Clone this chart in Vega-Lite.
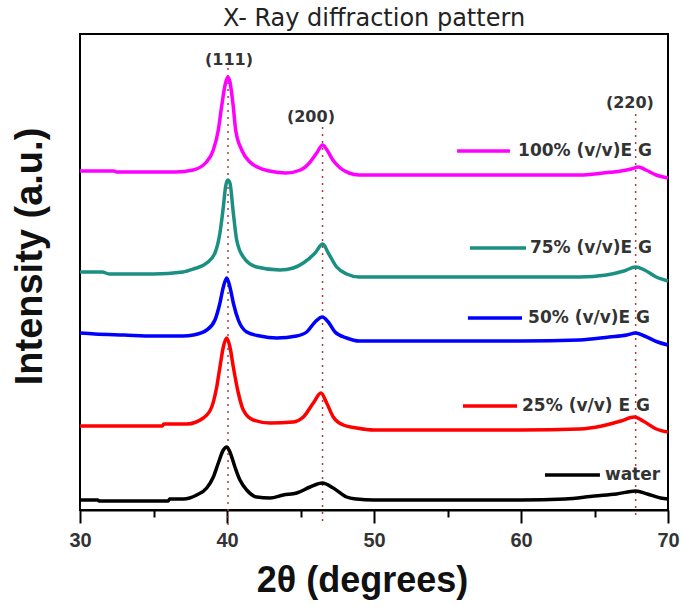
{
  "$schema": "https://vega.github.io/schema/vega-lite/v6.json",
  "width": 588,
  "height": 476,
  "autosize": {"type": "none"},
  "padding": {"left": 80, "top": 34, "right": 15, "bottom": 97},
  "background": "white",
  "title": {
    "text": "X- Ray diffraction pattern",
    "font": "DejaVu Sans",
    "fontSize": 24,
    "fontWeight": "normal",
    "color": "#222222",
    "anchor": "middle",
    "baseline": "alphabetic",
    "offset": -16
  },
  "config": {
    "font": "Liberation Sans",
    "view": {"stroke": "black", "strokeWidth": 2}
  },
  "datasets": {
    "curves": [
      {"series": "100%", "theta": 30, "intensity": 339},
      {"series": "100%", "theta": 32.3, "intensity": 339},
      {"series": "100%", "theta": 32.5, "intensity": 338},
      {"series": "100%", "theta": 35, "intensity": 338},
      {"series": "100%", "theta": 36.5, "intensity": 338},
      {"series": "100%", "theta": 37.7, "intensity": 340},
      {"series": "100%", "theta": 38.6, "intensity": 348},
      {"series": "100%", "theta": 39.07, "intensity": 360},
      {"series": "100%", "theta": 39.41, "intensity": 380},
      {"series": "100%", "theta": 39.63, "intensity": 403},
      {"series": "100%", "theta": 39.87, "intensity": 425},
      {"series": "100%", "theta": 40.05, "intensity": 433},
      {"series": "100%", "theta": 40.2, "intensity": 428},
      {"series": "100%", "theta": 40.43, "intensity": 403},
      {"series": "100%", "theta": 40.59, "intensity": 380},
      {"series": "100%", "theta": 41.0, "intensity": 360},
      {"series": "100%", "theta": 41.56, "intensity": 348},
      {"series": "100%", "theta": 42.2, "intensity": 342},
      {"series": "100%", "theta": 42.9, "intensity": 339},
      {"series": "100%", "theta": 44.0, "intensity": 337},
      {"series": "100%", "theta": 45.0, "intensity": 340},
      {"series": "100%", "theta": 45.6, "intensity": 347},
      {"series": "100%", "theta": 46.1, "intensity": 357},
      {"series": "100%", "theta": 46.5, "intensity": 365},
      {"series": "100%", "theta": 46.8, "intensity": 360},
      {"series": "100%", "theta": 47.2, "intensity": 350},
      {"series": "100%", "theta": 47.7, "intensity": 342},
      {"series": "100%", "theta": 48.3, "intensity": 337},
      {"series": "100%", "theta": 49.0, "intensity": 335},
      {"series": "100%", "theta": 55, "intensity": 335},
      {"series": "100%", "theta": 60, "intensity": 335},
      {"series": "100%", "theta": 64, "intensity": 335},
      {"series": "100%", "theta": 65.6, "intensity": 337},
      {"series": "100%", "theta": 66.8, "intensity": 339},
      {"series": "100%", "theta": 67.5, "intensity": 341},
      {"series": "100%", "theta": 68.0, "intensity": 343},
      {"series": "100%", "theta": 68.5, "intensity": 340},
      {"series": "100%", "theta": 69.2, "intensity": 335},
      {"series": "100%", "theta": 70, "intensity": 332},

      {"series": "75%", "theta": 30, "intensity": 238},
      {"series": "75%", "theta": 31.5, "intensity": 238},
      {"series": "75%", "theta": 32, "intensity": 236},
      {"series": "75%", "theta": 35, "intensity": 236},
      {"series": "75%", "theta": 37, "intensity": 238},
      {"series": "75%", "theta": 37.71, "intensity": 241},
      {"series": "75%", "theta": 38.62, "intensity": 247},
      {"series": "75%", "theta": 39.18, "intensity": 257},
      {"series": "75%", "theta": 39.52, "intensity": 277},
      {"series": "75%", "theta": 39.75, "intensity": 303},
      {"series": "75%", "theta": 39.9, "intensity": 323},
      {"series": "75%", "theta": 40.05, "intensity": 330},
      {"series": "75%", "theta": 40.2, "intensity": 327},
      {"series": "75%", "theta": 40.43, "intensity": 297},
      {"series": "75%", "theta": 40.66, "intensity": 270},
      {"series": "75%", "theta": 41.11, "intensity": 253},
      {"series": "75%", "theta": 42.02, "intensity": 243},
      {"series": "75%", "theta": 43.61, "intensity": 240},
      {"series": "75%", "theta": 44.51, "intensity": 242},
      {"series": "75%", "theta": 45.19, "intensity": 247},
      {"series": "75%", "theta": 45.99, "intensity": 257},
      {"series": "75%", "theta": 46.51, "intensity": 266},
      {"series": "75%", "theta": 46.89, "intensity": 257},
      {"series": "75%", "theta": 47.46, "intensity": 243},
      {"series": "75%", "theta": 48.14, "intensity": 236},
      {"series": "75%", "theta": 49, "intensity": 233},
      {"series": "75%", "theta": 55, "intensity": 233},
      {"series": "75%", "theta": 60, "intensity": 233},
      {"series": "75%", "theta": 64, "intensity": 233},
      {"series": "75%", "theta": 65.8, "intensity": 235},
      {"series": "75%", "theta": 67.0, "intensity": 239},
      {"series": "75%", "theta": 67.8, "intensity": 243},
      {"series": "75%", "theta": 68.4, "intensity": 240},
      {"series": "75%", "theta": 69.2, "intensity": 233},
      {"series": "75%", "theta": 70, "intensity": 229},

      {"series": "50%", "theta": 30, "intensity": 177},
      {"series": "50%", "theta": 31, "intensity": 176},
      {"series": "50%", "theta": 33, "intensity": 175},
      {"series": "50%", "theta": 35, "intensity": 174},
      {"series": "50%", "theta": 37, "intensity": 174},
      {"series": "50%", "theta": 37.71, "intensity": 175},
      {"series": "50%", "theta": 38.62, "intensity": 180},
      {"series": "50%", "theta": 39.18, "intensity": 190},
      {"series": "50%", "theta": 39.52, "intensity": 207},
      {"series": "50%", "theta": 39.75, "intensity": 223},
      {"series": "50%", "theta": 39.98, "intensity": 232},
      {"series": "50%", "theta": 40.2, "intensity": 223},
      {"series": "50%", "theta": 40.43, "intensity": 207},
      {"series": "50%", "theta": 40.77, "intensity": 190},
      {"series": "50%", "theta": 41.34, "intensity": 178},
      {"series": "50%", "theta": 42.24, "intensity": 174},
      {"series": "50%", "theta": 43.38, "intensity": 172},
      {"series": "50%", "theta": 44.74, "intensity": 174},
      {"series": "50%", "theta": 45.42, "intensity": 178},
      {"series": "50%", "theta": 45.99, "intensity": 188},
      {"series": "50%", "theta": 46.48, "intensity": 193},
      {"series": "50%", "theta": 46.89, "intensity": 188},
      {"series": "50%", "theta": 47.35, "intensity": 178},
      {"series": "50%", "theta": 48.14, "intensity": 172},
      {"series": "50%", "theta": 49, "intensity": 169},
      {"series": "50%", "theta": 55, "intensity": 169},
      {"series": "50%", "theta": 60, "intensity": 169},
      {"series": "50%", "theta": 64, "intensity": 170},
      {"series": "50%", "theta": 66, "intensity": 173},
      {"series": "50%", "theta": 67.2, "intensity": 175},
      {"series": "50%", "theta": 67.8, "intensity": 177},
      {"series": "50%", "theta": 68.4, "intensity": 174},
      {"series": "50%", "theta": 69.3, "intensity": 168},
      {"series": "50%", "theta": 70, "intensity": 165},

      {"series": "25%", "theta": 30, "intensity": 84},
      {"series": "25%", "theta": 35.6, "intensity": 84},
      {"series": "25%", "theta": 35.7, "intensity": 86},
      {"series": "25%", "theta": 37.26, "intensity": 86},
      {"series": "25%", "theta": 38.39, "intensity": 92},
      {"series": "25%", "theta": 38.96, "intensity": 103},
      {"series": "25%", "theta": 39.3, "intensity": 123},
      {"series": "25%", "theta": 39.52, "intensity": 143},
      {"series": "25%", "theta": 39.75, "intensity": 163},
      {"series": "25%", "theta": 39.98, "intensity": 172},
      {"series": "25%", "theta": 40.2, "intensity": 163},
      {"series": "25%", "theta": 40.43, "intensity": 143},
      {"series": "25%", "theta": 40.77, "intensity": 117},
      {"series": "25%", "theta": 41.11, "intensity": 100},
      {"series": "25%", "theta": 41.79, "intensity": 90},
      {"series": "25%", "theta": 42.93, "intensity": 87},
      {"series": "25%", "theta": 44.51, "intensity": 88},
      {"series": "25%", "theta": 45.19, "intensity": 93},
      {"series": "25%", "theta": 45.87, "intensity": 107},
      {"series": "25%", "theta": 46.39, "intensity": 117},
      {"series": "25%", "theta": 46.78, "intensity": 107},
      {"series": "25%", "theta": 47.23, "intensity": 93},
      {"series": "25%", "theta": 47.91, "intensity": 85},
      {"series": "25%", "theta": 48.82, "intensity": 82},
      {"series": "25%", "theta": 50, "intensity": 80},
      {"series": "25%", "theta": 55, "intensity": 80},
      {"series": "25%", "theta": 60, "intensity": 80},
      {"series": "25%", "theta": 64, "intensity": 81},
      {"series": "25%", "theta": 65.5, "intensity": 84},
      {"series": "25%", "theta": 66.8, "intensity": 89},
      {"series": "25%", "theta": 67.7, "intensity": 93},
      {"series": "25%", "theta": 68.3, "intensity": 89},
      {"series": "25%", "theta": 69.2, "intensity": 81},
      {"series": "25%", "theta": 70, "intensity": 78},

      {"series": "water", "theta": 30, "intensity": 10},
      {"series": "water", "theta": 31.2, "intensity": 10},
      {"series": "water", "theta": 31.3, "intensity": 9},
      {"series": "water", "theta": 36, "intensity": 9},
      {"series": "water", "theta": 36.1, "intensity": 11},
      {"series": "water", "theta": 37.03, "intensity": 11},
      {"series": "water", "theta": 37.94, "intensity": 15},
      {"series": "water", "theta": 38.62, "intensity": 22},
      {"series": "water", "theta": 39.07, "intensity": 33},
      {"series": "water", "theta": 39.41, "intensity": 47},
      {"series": "water", "theta": 39.75, "intensity": 60},
      {"series": "water", "theta": 39.98, "intensity": 63},
      {"series": "water", "theta": 40.2, "intensity": 58},
      {"series": "water", "theta": 40.54, "intensity": 43},
      {"series": "water", "theta": 40.88, "intensity": 30},
      {"series": "water", "theta": 41.34, "intensity": 20},
      {"series": "water", "theta": 42.02, "intensity": 13},
      {"series": "water", "theta": 42.93, "intensity": 12},
      {"series": "water", "theta": 43.83, "intensity": 15},
      {"series": "water", "theta": 44.74, "intensity": 17},
      {"series": "water", "theta": 45.65, "intensity": 23},
      {"series": "water", "theta": 46.48, "intensity": 27},
      {"series": "water", "theta": 47.23, "intensity": 22},
      {"series": "water", "theta": 48.14, "intensity": 13},
      {"series": "water", "theta": 48.82, "intensity": 11},
      {"series": "water", "theta": 50, "intensity": 10},
      {"series": "water", "theta": 55, "intensity": 10},
      {"series": "water", "theta": 60, "intensity": 10},
      {"series": "water", "theta": 63, "intensity": 11},
      {"series": "water", "theta": 65, "intensity": 14},
      {"series": "water", "theta": 66.5, "intensity": 16},
      {"series": "water", "theta": 67.8, "intensity": 19},
      {"series": "water", "theta": 68.6, "intensity": 16},
      {"series": "water", "theta": 69.5, "intensity": 12},
      {"series": "water", "theta": 70, "intensity": 11}
    ],
    "reflections": [
      {"hkl": "(111)", "theta": 40.07, "lineTop": 442, "lineBottom": -20, "labelTheta": 40.14, "labelLevel": 450},
      {"hkl": "(200)", "theta": 46.5, "lineTop": 383, "lineBottom": -12, "labelTheta": 45.71, "labelLevel": 393},
      {"hkl": "(220)", "theta": 67.8, "lineTop": 396, "lineBottom": -8, "labelTheta": 67.41, "labelLevel": 407}
    ],
    "keys": [
      {"series": "100%", "text": "100% (v/v)E G", "from": 55.65, "to": 59.25, "level": 359, "textAt": 59.8},
      {"series": "75%", "text": "75% (v/v)E G", "from": 56.53, "to": 60.34, "level": 262, "textAt": 60.61},
      {"series": "50%", "text": "50% (v/v)E G", "from": 56.39, "to": 60.07, "level": 192, "textAt": 60.48},
      {"series": "25%", "text": "25% (v/v) E G", "from": 56.05, "to": 59.73, "level": 104, "textAt": 60.07},
      {"series": "water", "text": "water", "from": 61.63, "to": 65.37, "level": 35, "textAt": 65.71}
    ]
  },
  "layer": [
    {
      "mark": {"type": "rule", "color": "#555555", "strokeWidth": 1},
      "encoding": {
        "x": {"datum": 30, "type": "quantitative", "scale": {"domain": [30, 70], "nice": false, "zero": false}},
        "x2": {"datum": 71.05},
        "y": {"datum": 4, "type": "quantitative", "scale": {"domain": [0, 476], "nice": false, "zero": false}}
      }
    },
    {
      "data": {"name": "reflections"},
      "mark": {"type": "rule", "color": "#b03a3a", "strokeWidth": 1.5, "strokeDash": [2, 5]},
      "encoding": {
        "x": {"field": "theta", "type": "quantitative"},
        "y": {"field": "lineTop", "type": "quantitative"},
        "y2": {"field": "lineBottom"}
      }
    },
    {
      "data": {"name": "curves"},
      "mark": {"type": "line", "strokeWidth": 3.5, "interpolate": "monotone"},
      "encoding": {
        "x": {
          "field": "theta",
          "type": "quantitative",
          "scale": {"domain": [30, 70], "nice": false, "zero": false},
          "axis": {
            "title": "2θ (degrees)",
            "titleFont": "Liberation Sans",
            "titleFontSize": 36,
            "titleFontWeight": "bold",
            "titleColor": "#111111",
            "titlePadding": 13,
            "titleX": 282,
            "values": [30, 35, 40, 45, 50, 55, 60, 65, 70],
            "labelExpr": "datum.value % 10 === 0 ? datum.label : ''",
            "labelFlush": false,
            "labelFont": "Liberation Sans",
            "labelFontSize": 20,
            "labelFontWeight": "bold",
            "labelColor": "#333333",
            "labelPadding": 7,
            "tickColor": "black",
            "tickWidth": 2,
            "tickSize": {"condition": {"test": "datum.value % 10 === 0", "value": 13}, "value": 7},
            "domainColor": "black",
            "domainWidth": 2,
            "grid": false
          }
        },
        "y": {
          "field": "intensity",
          "type": "quantitative",
          "scale": {"domain": [0, 476], "nice": false, "zero": false},
          "axis": {
            "title": "Intensity (a.u.)",
            "titleFont": "Liberation Sans",
            "titleFontSize": 38,
            "titleFontWeight": "bold",
            "titleColor": "#111111",
            "titlePadding": 31,
            "titleY": 222,
            "labels": false,
            "ticks": false,
            "domain": false,
            "grid": false
          }
        },
        "color": {
          "field": "series",
          "type": "nominal",
          "scale": {
            "domain": ["100%", "75%", "50%", "25%", "water"],
            "range": ["#ff00ff", "#1b8f82", "#0000ff", "#ff0000", "#000000"]
          },
          "legend": null
        }
      }
    },
    {
      "data": {"name": "keys"},
      "mark": {"type": "rule", "strokeWidth": 3.5},
      "encoding": {
        "x": {"field": "from", "type": "quantitative"},
        "x2": {"field": "to"},
        "y": {"field": "level", "type": "quantitative"},
        "color": {"field": "series", "type": "nominal", "legend": null}
      }
    },
    {
      "data": {"name": "keys"},
      "mark": {"type": "text", "align": "left", "baseline": "middle", "font": "DejaVu Sans", "fontSize": 17, "fontWeight": "bold", "color": "#333333"},
      "encoding": {
        "x": {"field": "textAt", "type": "quantitative"},
        "y": {"field": "level", "type": "quantitative"},
        "text": {"field": "text"}
      }
    },
    {
      "data": {"name": "reflections"},
      "mark": {"type": "text", "align": "center", "baseline": "middle", "font": "DejaVu Sans", "fontSize": 16, "fontWeight": "bold", "color": "#333333"},
      "encoding": {
        "x": {"field": "labelTheta", "type": "quantitative"},
        "y": {"field": "labelLevel", "type": "quantitative"},
        "text": {"field": "hkl"}
      }
    }
  ]
}
